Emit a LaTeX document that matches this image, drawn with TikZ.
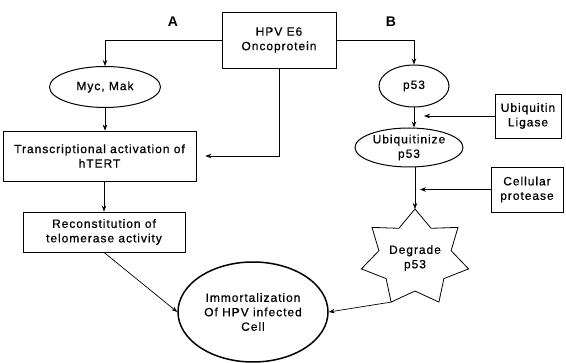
\documentclass[tikz,border=0pt]{standalone}
\usepackage{fontspec}
\setmainfont[LetterSpace=8,FakeBold=0.6]{Liberation Sans}
\newfontfamily\lblfont{Liberation Sans}
\usetikzlibrary{shapes.geometric,arrows.meta}
\begin{document}
\begin{tikzpicture}[x=1pt,y=-1pt,
  every node/.style={font=\fontsize{12}{14.5}\selectfont, align=center, inner sep=0pt},
  box/.style={draw, line width=0.8pt},
  oval/.style={draw, ellipse, line width=1pt},
  arr/.style={-{Stealth[length=6pt,width=4.5pt]}, line width=0.7pt},
  lbl/.style={font=\lblfont\fontsize{14}{16}\selectfont\bfseries}]
\useasboundingbox[fill=white] (0,0) rectangle (566,363);
% nodes
\node[box, minimum width=114pt, minimum height=56pt] (hpv) at (279,40) {HPV E6\\Oncoprotein};
\node[lbl] (la) at (173,22) {A};
\node[lbl] (lb) at (391,22) {B};
\node[oval, minimum width=111pt, minimum height=41pt] (myc) at (105,87) {Myc, Mak};
\node[oval, minimum width=70pt, minimum height=42pt] (p53) at (414,86) {p53};
\node[box, minimum width=66pt, minimum height=44pt] (ubl) at (528,116) {Ubiquitin\\Ligase};
\node[box, minimum width=193pt, minimum height=50pt] (trans) at (99.5,156) {Transcriptional activation of\\hTERT};
\node[box, minimum width=162pt, minimum height=40pt] (recon) at (104,232) {Reconstitution of\\telomerase activity};
\node[oval, minimum width=108pt, minimum height=39pt] (ubq) at (409,147.5) {Ubiquitinize\\p53};
\node[box, minimum width=72pt, minimum height=45pt] (cp) at (527,189.5) {Cellular\\protease};
\node[oval, line width=1.5pt, minimum width=150pt, minimum height=100pt] (imm) at (253,312) {Immortalization\\Of HPV infected\\Cell};
% star
\draw[line width=0.8pt] (415,209) -- (431.1,228.3) -- (458.0,227.4) -- (451.1,250.7) -- (468.6,268.9)
  -- (443.9,278.6) -- (438.9,302.1) -- (415,291) -- (391.1,302.1) -- (386.1,278.6)
  -- (361.4,268.9) -- (378.9,250.7) -- (372.0,227.4) -- (398.9,228.3) -- cycle;
\coordinate (degtop) at (415,209);
\coordinate (degbl) at (391.1,302.1);
\node (deg) at (415,258) {Degrade\\p53};
% connectors
\draw[arr] (hpv.west) -| (myc.north);
\draw[arr] (hpv.east) -| (p53.north);
\draw[arr, shorten >=9pt] (hpv.south) |- (trans.east);
\draw[arr] (myc.south) -- (myc.south |- trans.north);
\draw[arr] (recon.north |- trans.south) -- (recon.north);
\draw[arr] (recon.south) -- (imm.west);
\draw[arr] (p53.south) -- (p53.south |- ubq.north);
\draw[arr, shorten >=10pt] (ubl.west) -- (ubl.west -| p53.south);
\draw[arr] (degtop |- ubq.south) -- (degtop);
\draw[arr, shorten >=5pt] (cp.west) -- (cp.west -| degtop);
\draw[arr] (degbl) -- (imm.east);
\end{tikzpicture}
\end{document}
